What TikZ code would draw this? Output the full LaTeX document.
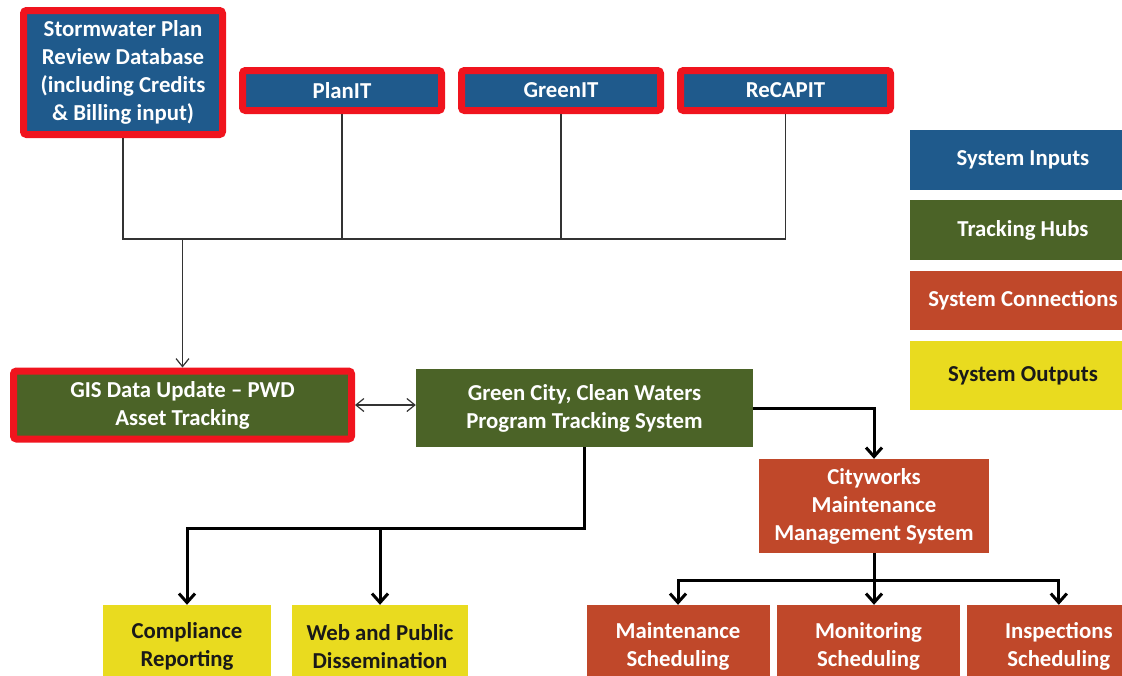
\documentclass[tikz,border=0pt]{standalone}
\usepackage{fontspec}
\setmainfont{Carlito}
\usetikzlibrary{positioning}
\usetikzlibrary{arrows.meta}
\definecolor{inblue}{HTML}{1F5A8C}
\definecolor{hubgreen}{HTML}{4B6327}
\definecolor{conred}{HTML}{C0482A}
\definecolor{outyellow}{HTML}{E9DB1F}
\definecolor{edgered}{HTML}{F0141E}

\begin{document}
\begin{tikzpicture}[x=1pt,y=-1pt,
    node/.style={rectangle,align=center,inner sep=0pt,text=white,
                 font=\fontsize{22.8}{28}\selectfont\bfseries},
    input/.style={node,fill=inblue},
    marked/.style={draw=edgered,line width=7pt,rounded corners=3pt},
    hub/.style={node,fill=hubgreen},
    link/.style={node,fill=conred},
    output/.style={node,fill=outyellow,text=black!90},
    legend/.style={minimum width=226pt},
    feed/.style={draw=black!80,line width=1.2pt,>={Straight Barb[length=8pt,width=13pt]}},
    flow/.style={draw=black,line width=3pt,>={Straight Barb[length=9pt,width=16pt]}}]

  \useasboundingbox (0,0) rectangle (1122,675);

  % 1. Eingaben
  \node[input,marked,minimum width=199pt,minimum height=124pt] (sw) at (123,72.5)
    {Stormwater Plan\\Review Database\\(including Credits\\\& Billing input)};
  \node[input,marked,minimum width=199pt,minimum height=40pt] (pi) at (342,90.5) {PlanIT};
  \node[input,marked,minimum width=199pt,minimum height=40pt] (gi) [right=219pt of pi.center,anchor=center] {GreenIT};
  \node[input,marked,minimum width=210pt,minimum height=40pt] (rc) [right=224.5pt of gi.center,anchor=center] {ReCAPIT};

  % 2. Knoten
  \node[hub,marked,minimum width=338pt,minimum height=68pt] (gis) at (182.5,405)
    {GIS Data Update -- PWD\\Asset Tracking};
  \node[hub,minimum width=337pt,minimum height=78pt] (gcw) at (584.5,408)
    {Green City, Clean Waters\\Program Tracking System};
  \node[link,minimum width=230pt,minimum height=94pt] (cw) at (874,506)
    {Cityworks\\Maintenance\\Management System};

  % 3. Ausgaben
  \node[output,minimum width=168pt,minimum height=83pt] (cr) at (187,646.5) {Compliance\\Reporting};
  \node[output,minimum width=176pt,minimum height=83pt] (web) [right=193pt of cr.center,anchor=center] {Web and Public\\Dissemination};
  \node[link,minimum width=183pt,minimum height=83pt] (mt) at (678,646.5) {Maintenance\\Scheduling};
  \node[link,minimum width=183pt,minimum height=83pt] (mo) [right=7pt of mt] {Monitoring\\Scheduling};
  \node[link,minimum width=183pt,minimum height=83pt] (ins) [right=7pt of mo] {Inspections\\Scheduling};

  % Legende
  \node[input,legend,minimum height=60pt] (lin) at (1023,160) {System Inputs};
  \node[hub,legend,minimum height=60pt] (lhub) [below=10pt of lin] {Tracking Hubs};
  \node[link,legend,minimum height=59pt] (lcon) [below=10pt of lhub] {System Connections};
  \node[output,legend,minimum height=69pt] (lout) [below=11pt of lcon] {System Outputs};

  % Verbindungen
  \coordinate (bus) at (0,239);
  \coordinate (split) at (0,528);
  \coordinate (fork) at (0,580);

  \draw[feed] (sw.south) -- (sw.south |- bus) -- (rc.south |- bus) -- (rc.south);
  \draw[feed] (pi.south) -- (pi.south |- bus);
  \draw[feed] (gi.south) -- (gi.south |- bus);
  \path[feed]
    (gis.north |- bus) edge[->] (gis.north)
    (gis.east)         edge[<->] (gcw.west |- gis.east);

  \draw[flow,->] (gcw.east) -| (cw.north);
  \draw[flow,->] (gcw.south) |- (split -| cr.north) -- (cr.north);
  \draw[flow,->] (web.north |- split) -- (web.north);

  \draw[flow,->] (cw.south) -- (cw.south |- mo.north);
  \draw[flow,->] (cw.south |- fork) -| (mt.north);
  \draw[flow,->] (cw.south |- fork) -| (ins.north);

\end{tikzpicture}
\end{document}
